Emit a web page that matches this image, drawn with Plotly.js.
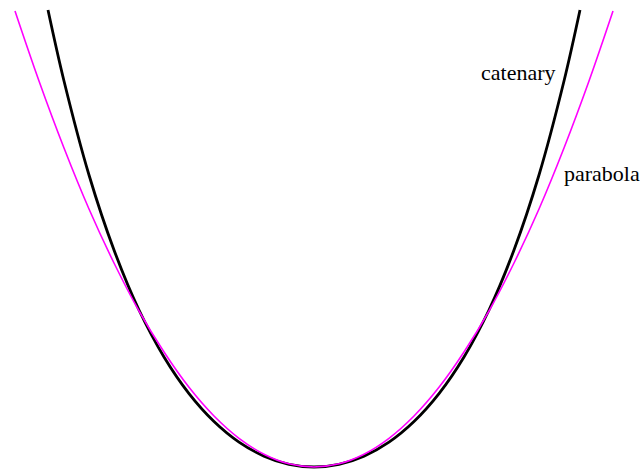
<!DOCTYPE html>
<html>
<head>
<meta charset="utf-8">
<script src="https://cdn.plot.ly/plotly-3.0.1.min.js"></script>
<style>html,body{margin:0;padding:0;background:#fff;}#chart{width:643px;height:470px;}</style>
</head>
<body>
<div id="chart"></div>
<script>
// Values (horizontal offset from lowest point, height above lowest point)
var catenaryX = [-2.66,-2.5,-2.25,-2.0,-1.75,-1.5,-1.25,-1.0,-0.75,-0.5,-0.25,0,0.25,0.5,0.75,1.0,1.25,1.5,1.75,2.0,2.25,2.5,2.66];
var catenaryY = [4.57,3.86,2.92,2.17,1.57,1.10,0.734,0.455,0.249,0.109,0.027,0,0.027,0.109,0.249,0.455,0.734,1.10,1.57,2.17,2.92,3.86,4.57];
var parabolaX = [-2.99,-2.75,-2.5,-2.25,-2.0,-1.75,-1.5,-1.25,-1.0,-0.75,-0.5,-0.25,0,0.25,0.5,0.75,1.0,1.25,1.5,1.75,2.0,2.25,2.5,2.75,2.99];
var parabolaY = [4.56,3.86,3.19,2.58,2.04,1.56,1.15,0.797,0.51,0.287,0.128,0.032,0,0.032,0.128,0.287,0.51,0.797,1.15,1.56,2.04,2.58,3.19,3.86,4.56];
var labelText = ["catenary", "parabola"];

var traces = [
  {x: catenaryX, y: catenaryY, type: 'scatter', mode: 'lines',
   line: {color: '#000000', width: 2.8, shape: 'spline', smoothing: 1}, hoverinfo: 'skip'},
  {x: parabolaX, y: parabolaY, type: 'scatter', mode: 'lines',
   line: {color: '#ff00ff', width: 1.6, shape: 'spline', smoothing: 1}, hoverinfo: 'skip'}
];

var layout = {
  width: 643, height: 470,
  margin: {l: 0, r: 0, t: 0, b: 0},
  paper_bgcolor: '#ffffff', plot_bgcolor: '#ffffff',
  showlegend: false,
  xaxis: {range: [-3.14, 3.29], visible: false, fixedrange: true},
  yaxis: {range: [-0.03, 4.67], visible: false, fixedrange: true},
  annotations: [
    {x: 1.65, y: 3.95, xref: 'x', yref: 'y', text: labelText[0], showarrow: false,
     xanchor: 'left', yanchor: 'middle',
     font: {family: 'Liberation Serif, Times New Roman, serif', size: 22, color: '#000'}},
    {x: 2.48, y: 2.94, xref: 'x', yref: 'y', text: labelText[1], showarrow: false,
     xanchor: 'left', yanchor: 'middle',
     font: {family: 'Liberation Serif, Times New Roman, serif', size: 22, color: '#000'}}
  ]
};

Plotly.newPlot('chart', traces, layout, {displayModeBar: false, staticPlot: true});
</script>
</body>
</html>
